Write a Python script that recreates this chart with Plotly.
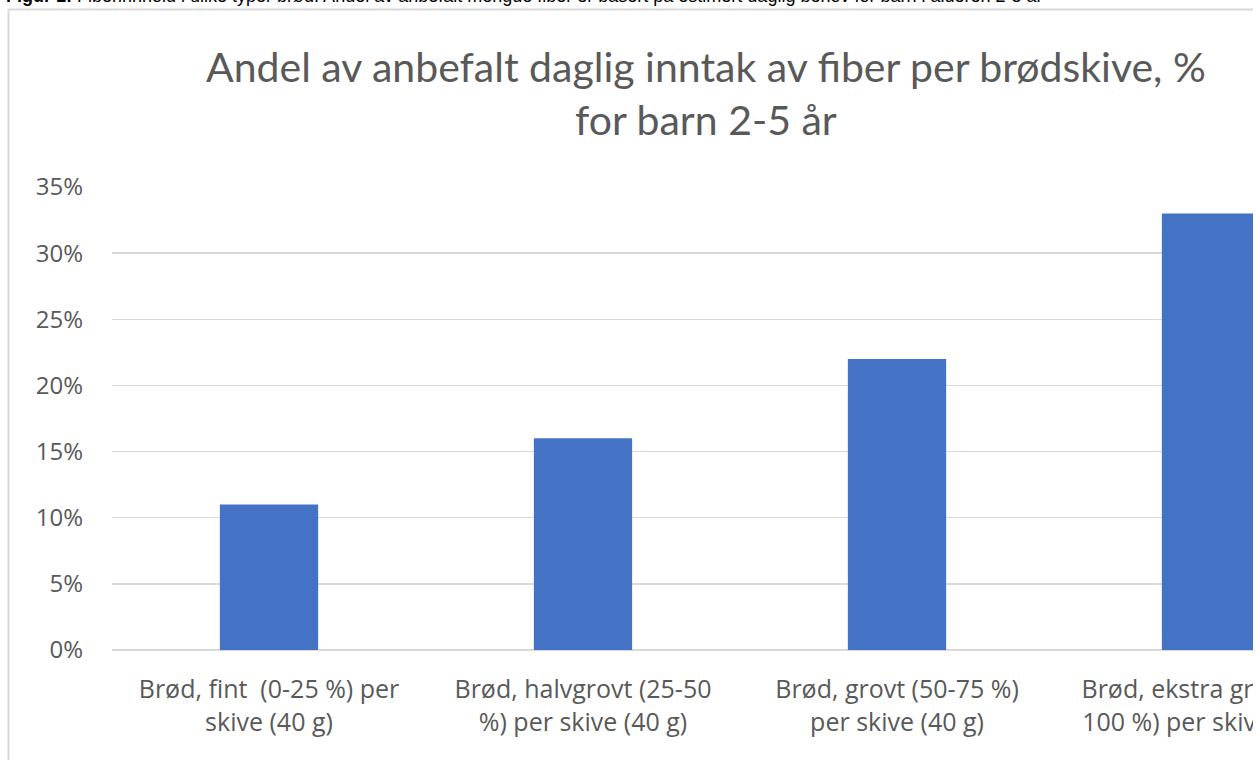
import plotly.graph_objects as go

categories = [
    "Brød, fint  (0-25 %) per<br>skive (40 g)",
    "Brød, halvgrovt (25-50<br>%) per skive (40 g)",
    "Brød, grovt (50-75 %)<br>per skive (40 g)",
    "Brød, ekstra grovt (75-<br>100 %) per skive (40 g)",
]
values = [0.11, 0.16, 0.22, 0.33]
y_ticks = [0, 0.05, 0.10, 0.15, 0.20, 0.25, 0.30, 0.35]
y_tick_labels = ["0%", "5%", "10%", "15%", "20%", "25%", "30%", "35%"]
title_text = "Andel av anbefalt daglig inntak av fiber per brødskive, %<br>for barn 2-5 år"
caption_text = ("<b>Figur 1:</b> Fiberinnhold i ulike typer brød. Andel av anbefalt mengde fiber "
                "er basert på estimert daglig behov for barn i alderen 2-5 år")

W, H = 1258, 760
L, R, T, B = 112, 0, 187, 110
pw, ph = W - L - R, H - T - B

def px(x):
    return (x - L) / pw

def py(y):
    return (H - B - y) / ph

TICKFONT = "Open Sans, sans-serif"
TITLEFONT = "Lato, sans-serif"
GRAY = "#595959"

fig = go.Figure(go.Bar(
    x=list(range(len(categories))), y=values,
    marker=dict(color="#4472c4", line=dict(width=0)),
    width=0.313,
    hoverinfo="skip",
))

fig.update_layout(
    width=W, height=H,
    margin=dict(l=L, r=R, t=T, b=B, autoexpand=False),
    paper_bgcolor="white", plot_bgcolor="white",
    showlegend=False,
    font=dict(family=TICKFONT, color=GRAY, size=24),
    xaxis=dict(
        range=[-0.5, -0.5 + pw / 314.0],
        tickvals=list(range(len(categories))), ticktext=categories,
        showgrid=False, zeroline=False, showline=False, ticks="",
        tickfont=dict(size=25, color=GRAY, family=TICKFONT),
        ticklabelstandoff=22,
        ticklabeloverflow="allow",
        automargin=False,
    ),
    yaxis=dict(
        range=[0, 0.35],
        tickvals=y_ticks, ticktext=y_tick_labels,
        showgrid=True, gridcolor="#d9d9d9", gridwidth=1.5,
        zeroline=True, zerolinecolor="#d9d9d9", zerolinewidth=1.5,
        showline=False, ticks="",
        tickfont=dict(size=24, color=GRAY, family=TICKFONT),
        ticklabelstandoff=28,
        automargin=False,
    ),
    annotations=[
        dict(text=title_text, xref="paper", yref="paper", x=px(706), y=py(40),
             xanchor="center", yanchor="top", showarrow=False,
             font=dict(size=41, color=GRAY, family=TITLEFONT)),
        dict(text=caption_text, xref="paper", yref="paper", x=px(4), y=py(8.5),
             xanchor="left", yanchor="bottom", showarrow=False,
             font=dict(size=18, color="#000000", family="Liberation Sans, Arial, sans-serif")),
    ],
    shapes=[
        dict(type="line", xref="paper", yref="paper", x0=px(8), x1=px(1262), y0=py(9.5), y1=py(9.5),
             line=dict(color="#d9d9d9", width=2)),
        dict(type="line", xref="paper", yref="paper", x0=px(8.5), x1=px(8.5), y0=py(9), y1=py(765),
             line=dict(color="#d9d9d9", width=2)),
        dict(type="rect", xref="paper", yref="paper", x0=px(1253), x1=px(1262), y0=py(8), y1=py(765),
             fillcolor="white", line=dict(width=0), layer="above"),
    ],
)

fig.write_html(
    "out.html",
    config={"displayModeBar": False, "staticPlot": True},
    post_script="document.body.style.margin='0';document.body.style.overflow='hidden';",
)
